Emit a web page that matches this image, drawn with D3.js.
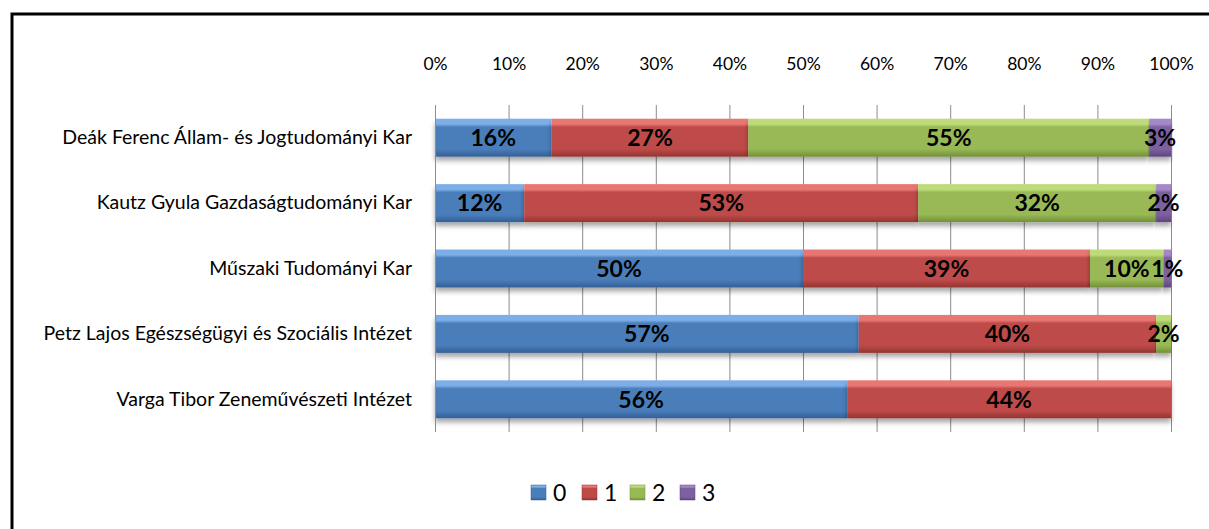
<!DOCTYPE html>
<html><head><meta charset="utf-8">
<script src="https://cdn.jsdelivr.net/npm/d3@7"></script>
<style>
html,body{margin:0;padding:0;background:#fff;}
svg{display:block;font-family:Lato,"Open Sans",sans-serif;}
</style></head>
<body>
<svg id="chart" width="1209" height="529"></svg>
<script>
const categories = [
  "Deák Ferenc Állam- és Jogtudományi Kar",
  "Kautz Gyula Gazdaságtudományi Kar",
  "Műszaki Tudományi Kar",
  "Petz Lajos Egészségügyi és Szociális Intézet",
  "Varga Tibor Zeneművészeti Intézet"
];
const seriesNames = ["0", "1", "2", "3"];
const values0 = [16, 12, 50, 57, 56];
const values1 = [27, 53, 39, 40, 44];
const values2 = [55, 32, 10, 2, 0];
const values3 = [3, 2, 1, 0, 0];
const tickValues = [0, 0.1, 0.2, 0.3, 0.4, 0.5, 0.6, 0.7, 0.8, 0.9, 1];
const colors = ["#4A7EBB", "#BE4B48", "#98B954", "#7D60A0"];
const lights = ["#7DAEE8", "#E87773", "#BEDB7A", "#A488C8"];
const darks = ["#335F96", "#933532", "#738F3A", "#5C467D"];

const svg = d3.select("#chart");
const W = 1209, H = 529;
const margin = {left: 435, right: 1209 - 1171, top: 105, bottom: 529 - 432};

// frame
svg.append("path")
  .attr("d", `M12,${H} L12,14 L${W},14`)
  .attr("fill", "none").attr("stroke", "#000").attr("stroke-width", 3);

const defs = svg.append("defs");
colors.forEach((c, i) => {
  const g = defs.append("linearGradient").attr("id", "grad" + i)
    .attr("x1", 0).attr("x2", 0).attr("y1", 0).attr("y2", 1);
  g.append("stop").attr("offset", "0%").attr("stop-color", lights[i]);
  g.append("stop").attr("offset", "14%").attr("stop-color", lights[i]);
  g.append("stop").attr("offset", "22%").attr("stop-color", c);
  g.append("stop").attr("offset", "80%").attr("stop-color", c);
  g.append("stop").attr("offset", "100%").attr("stop-color", darks[i]);
});
const f = defs.append("filter").attr("id", "shadow")
  .attr("x", "-5%").attr("y", "-20%").attr("width", "110%").attr("height", "160%");
f.append("feDropShadow").attr("dx", 0).attr("dy", 4).attr("stdDeviation", 2.5)
  .attr("flood-color", "#000").attr("flood-opacity", 0.35);

const x = d3.scaleLinear().domain([0, 1]).range([margin.left, W - margin.right]);
const y = d3.scaleBand().domain(categories).range([margin.top, H - margin.bottom]).paddingInner(0.42).paddingOuter(0.21);

// gridlines
svg.append("g").attr("transform", `translate(0,${margin.top})`)
  .call(d3.axisTop(x).tickValues(tickValues).tickSize(-(H - margin.bottom - margin.top)).tickFormat(""))
  .call(g => g.select(".domain").remove())
  .call(g => g.selectAll("line").attr("stroke", "#8C8C8C").attr("stroke-width", 1));

// tick labels
svg.append("g").attr("transform", `translate(0,${margin.top})`)
  .call(d3.axisTop(x).tickValues(tickValues).tickSize(0).tickPadding(35).tickFormat(d3.format(".0%")))
  .call(g => g.select(".domain").remove())
  .call(g => g.selectAll("text").attr("font-family", "Lato").attr("font-size", 17.5).attr("fill", "#000"));

// stack
const rows = categories.map((c, i) => {
  const vals = [values0[i], values1[i], values2[i], values3[i]];
  const sum = d3.sum(vals);
  const o = {cat: c};
  vals.forEach((v, k) => o[seriesNames[k]] = v / sum);
  o.raw = vals;
  return o;
});
const stack = d3.stack().keys(seriesNames)(rows);

const layers = svg.append("g").selectAll("g").data(stack).join("g")
  .attr("fill", (d, i) => `url(#grad${i})`);
layers.selectAll("rect").data(d => d.filter(s => s[1] - s[0] > 0)).join("rect")
  .attr("x", d => x(d[0])).attr("width", d => x(d[1]) - x(d[0]))
  .attr("y", d => y(d.data.cat)).attr("height", y.bandwidth())
  .attr("filter", "url(#shadow)");

// y axis
svg.append("g").attr("transform", `translate(${margin.left},0)`)
  .call(d3.axisLeft(y).tickSize(0).tickPadding(23))
  .call(g => g.select(".domain").attr("stroke", "#8C8C8C").attr("d", `M0.5,${margin.top}V${H - margin.bottom}`))
  .call(g => g.selectAll("text").attr("font-family", "Lato").attr("font-size", 19.5).attr("fill", "#000"));

// bar labels
const lab = svg.append("g");
stack.forEach((layer, k) => {
  layer.forEach((d, i) => {
    const raw = d.data.raw[k];
    if (raw <= 0) return;
    lab.append("text")
      .attr("x", (x(d[0]) + x(d[1])) / 2)
      .attr("y", y(d.data.cat) + y.bandwidth() / 2)
      .attr("dy", "0.36em")
      .attr("text-anchor", "middle")
      .attr("font-family", "Lato").attr("font-size", 23).attr("font-weight", "bold")
      .attr("fill", "#000")
      .text(raw + "%");
  });
});

// legend
const legX = [531, 582, 630, 680];
const leg = svg.append("g");
seriesNames.forEach((n, i) => {
  leg.append("rect").attr("x", legX[i]).attr("y", 485).attr("width", 15).attr("height", 15)
    .attr("fill", `url(#grad${i})`).attr("stroke", darks[i]).attr("stroke-width", 0.5);
  leg.append("text").attr("x", legX[i] + 22).attr("y", 493).attr("dy", "0.36em")
    .attr("font-family", "Lato").attr("font-size", 23).attr("fill", "#000").text(n);
});
</script>
</body></html>
